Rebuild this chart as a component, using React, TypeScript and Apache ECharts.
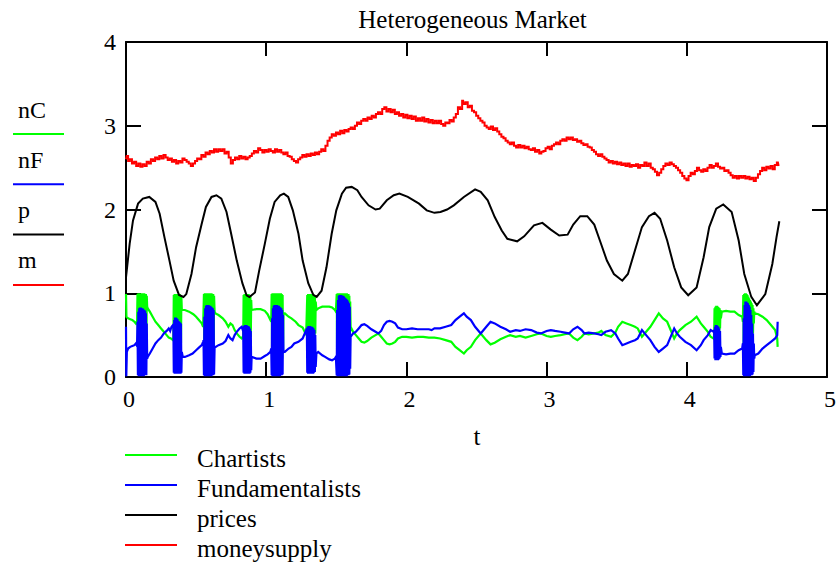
import React, { useEffect, useRef } from "react";
import * as echarts from "echarts";

// ---- data ----
const xTicks = [0, 1, 2, 3, 4, 5];
const yTicks = [0, 1, 2, 3, 4];

// nC (Chartists), [t, value]
const chartists: [number, number][] = [
  [0, 0.99], [0.003, 0.72], [0.015, 0.7], [0.03, 0.69], [0.045, 0.68], [0.06, 0.66], [0.07, 0.64], [0.076, 0.66],
  [0.079, 0.64], [0.082, 0.99], [0.085, 0.36], [0.088, 1.0], [0.091, 0.24], [0.094, 1.0], [0.097, 0.2], [0.1, 1.0], [0.103, 0.19], [0.106, 1.0], [0.109, 0.19], [0.112, 1.0], [0.115, 0.2], [0.118, 1.0], [0.121, 0.2], [0.124, 1.0], [0.127, 0.21], [0.13, 1.0], [0.133, 0.22], [0.136, 0.99], [0.139, 0.23], [0.142, 0.99], [0.145, 0.26], [0.148, 0.97], [0.151, 0.84],
  [0.155, 0.82], [0.17, 0.78], [0.19, 0.72], [0.21, 0.66], [0.23, 0.62], [0.25, 0.58], [0.27, 0.54], [0.29, 0.5], [0.305, 0.47], [0.32, 0.46], [0.335, 0.44],
  [0.338, 0.46], [0.341, 0.98], [0.344, 0.36], [0.347, 0.99], [0.35, 0.32], [0.353, 0.99], [0.356, 0.32], [0.359, 0.99], [0.362, 0.33], [0.365, 0.99], [0.368, 0.34], [0.371, 0.99], [0.374, 0.36], [0.377, 0.99], [0.38, 0.37], [0.383, 0.99], [0.386, 0.38], [0.389, 0.98], [0.392, 0.4], [0.395, 0.96], [0.398, 0.8],
  [0.405, 0.8], [0.42, 0.8], [0.45, 0.78], [0.48, 0.75], [0.5, 0.72], [0.52, 0.68], [0.54, 0.64], [0.55, 0.6],
  [0.553, 0.6], [0.556, 0.99], [0.559, 0.32], [0.562, 1.0], [0.565, 0.22], [0.568, 1.0], [0.571, 0.18], [0.574, 1.0], [0.577, 0.17], [0.58, 1.0], [0.583, 0.17], [0.586, 1.0], [0.589, 0.17], [0.592, 1.0], [0.595, 0.18], [0.598, 1.0], [0.601, 0.18], [0.604, 1.0], [0.607, 0.19], [0.61, 1.0], [0.613, 0.2], [0.616, 0.99], [0.619, 0.21], [0.622, 0.99], [0.625, 0.24], [0.628, 0.97], [0.632, 0.78],
  [0.638, 0.76], [0.66, 0.74], [0.69, 0.7], [0.71, 0.66], [0.73, 0.6], [0.745, 0.64], [0.76, 0.62], [0.775, 0.56], [0.79, 0.52], [0.81, 0.48], [0.825, 0.46], [0.833, 0.48],
  [0.836, 0.46], [0.839, 0.98], [0.842, 0.42], [0.845, 0.99], [0.848, 0.41], [0.851, 0.99], [0.854, 0.41], [0.857, 0.99], [0.86, 0.41], [0.863, 0.99], [0.866, 0.42], [0.869, 0.99], [0.872, 0.42], [0.875, 0.99], [0.878, 0.43], [0.881, 0.98], [0.884, 0.45], [0.887, 0.97], [0.89, 0.48], [0.893, 0.92], [0.896, 0.8],
  [0.9, 0.8], [0.93, 0.81], [0.96, 0.81], [0.99, 0.79], [1.01, 0.75], [1.03, 0.68],
  [1.036, 0.7], [1.039, 0.99], [1.042, 0.32], [1.045, 1.0], [1.048, 0.2], [1.051, 1.0], [1.054, 0.17], [1.057, 1.0], [1.06, 0.16], [1.063, 1.0], [1.066, 0.16], [1.069, 1.0], [1.072, 0.16], [1.075, 1.0], [1.078, 0.16], [1.081, 1.0], [1.084, 0.17], [1.087, 1.0], [1.09, 0.17], [1.093, 1.0], [1.096, 0.18], [1.099, 1.0], [1.102, 0.19], [1.105, 1.0], [1.108, 0.2], [1.111, 0.99], [1.114, 0.22], [1.117, 0.98], [1.12, 0.28], [1.123, 0.76],
  [1.133, 0.76], [1.16, 0.72], [1.18, 0.7], [1.21, 0.66], [1.23, 0.62], [1.26, 0.59], [1.285, 0.5],
  [1.29, 0.5], [1.293, 0.98], [1.296, 0.42], [1.299, 0.99], [1.302, 0.41], [1.305, 0.99], [1.308, 0.41], [1.311, 0.99], [1.314, 0.41], [1.317, 0.99], [1.32, 0.42], [1.323, 0.99], [1.326, 0.42], [1.329, 0.99], [1.332, 0.43], [1.335, 0.99], [1.338, 0.44], [1.341, 0.98], [1.344, 0.46], [1.347, 0.96], [1.35, 0.52], [1.353, 0.9], [1.358, 0.8],
  [1.371, 0.82], [1.4, 0.84], [1.42, 0.84], [1.45, 0.84], [1.47, 0.83], [1.49, 0.8], [1.497, 0.78],
  [1.5, 0.78], [1.503, 0.99], [1.506, 0.22], [1.509, 1.0], [1.512, 0.1], [1.515, 1.0], [1.518, 0.05], [1.521, 1.0], [1.524, 0.04], [1.527, 1.0], [1.53, 0.04], [1.533, 1.0], [1.536, 0.04], [1.539, 1.0], [1.542, 0.05], [1.545, 1.0], [1.548, 0.05], [1.551, 1.0], [1.554, 0.06], [1.557, 1.0], [1.56, 0.07], [1.563, 1.0], [1.566, 0.08], [1.569, 1.0], [1.572, 0.09], [1.575, 1.0], [1.578, 0.1], [1.581, 0.99], [1.584, 0.12], [1.587, 0.99], [1.59, 0.14], [1.593, 0.97], [1.596, 0.18], [1.599, 0.9], [1.602, 0.6],
  [1.62, 0.54], [1.64, 0.5], [1.66, 0.46], [1.68, 0.42], [1.7, 0.41], [1.72, 0.43], [1.75, 0.47], [1.78, 0.5], [1.8, 0.52], [1.82, 0.48], [1.84, 0.44], [1.86, 0.4], [1.88, 0.39], [1.9, 0.4], [1.92, 0.42], [1.94, 0.46], [1.97, 0.48], [2.0, 0.48], [2.04, 0.47], [2.08, 0.48], [2.12, 0.48], [2.16, 0.47], [2.2, 0.47], [2.24, 0.46], [2.28, 0.44], [2.32, 0.42], [2.35, 0.36], [2.38, 0.32], [2.41, 0.28], [2.43, 0.32], [2.46, 0.36], [2.49, 0.44], [2.53, 0.52], [2.57, 0.44], [2.6, 0.39], [2.63, 0.41], [2.67, 0.45], [2.71, 0.48], [2.74, 0.5], [2.78, 0.48], [2.81, 0.49], [2.85, 0.47], [2.89, 0.49], [2.93, 0.51], [2.96, 0.52], [3.0, 0.49], [3.03, 0.48], [3.06, 0.49], [3.1, 0.5], [3.13, 0.51], [3.16, 0.52], [3.19, 0.47], [3.22, 0.44], [3.25, 0.48], [3.27, 0.52], [3.3, 0.51], [3.34, 0.52], [3.37, 0.53], [3.39, 0.55], [3.42, 0.5], [3.46, 0.48], [3.49, 0.53], [3.51, 0.6], [3.54, 0.66], [3.57, 0.64], [3.6, 0.62], [3.63, 0.6], [3.65, 0.58], [3.68, 0.48], [3.71, 0.54], [3.74, 0.6], [3.77, 0.68], [3.8, 0.76], [3.83, 0.7], [3.86, 0.66], [3.89, 0.54], [3.91, 0.46], [3.93, 0.52], [3.95, 0.56], [3.99, 0.62], [4.03, 0.66], [4.07, 0.72], [4.1, 0.64], [4.12, 0.6], [4.15, 0.54], [4.17, 0.48], [4.19, 0.46],
  [4.195, 0.48], [4.198, 0.82], [4.201, 0.44], [4.204, 0.84], [4.207, 0.43], [4.21, 0.85], [4.213, 0.44], [4.216, 0.85], [4.219, 0.46], [4.222, 0.84], [4.225, 0.48], [4.228, 0.83], [4.231, 0.52], [4.234, 0.82], [4.237, 0.58], [4.24, 0.8], [4.243, 0.7],
  [4.25, 0.78], [4.28, 0.79], [4.31, 0.78], [4.34, 0.78], [4.37, 0.74], [4.395, 0.72],
  [4.4, 0.66], [4.403, 0.98], [4.406, 0.34], [4.409, 0.99], [4.412, 0.18], [4.415, 1.0], [4.418, 0.14], [4.421, 1.0], [4.424, 0.14], [4.427, 0.99], [4.43, 0.15], [4.433, 0.98], [4.436, 0.16], [4.439, 0.96], [4.442, 0.18], [4.445, 0.94], [4.448, 0.2], [4.451, 0.92], [4.454, 0.24], [4.457, 0.9], [4.46, 0.3], [4.463, 0.88], [4.466, 0.4], [4.469, 0.86], [4.472, 0.52], [4.475, 0.82], [4.478, 0.64], [4.481, 0.78],
  [4.485, 0.76], [4.51, 0.75], [4.54, 0.72], [4.57, 0.68], [4.6, 0.62], [4.63, 0.56], [4.645, 0.46], [4.648, 0.36],
];

// nF (Fundamentalists), [t, value]
const fundamentalists: [number, number][] = [
  [0, 0.6], [0.002, 0.01], [0.006, 0.3], [0.015, 0.34], [0.03, 0.36], [0.045, 0.37], [0.06, 0.38], [0.07, 0.4], [0.076, 0.38],
  [0.079, 0.4], [0.082, 0.66], [0.085, 0.02], [0.088, 0.78], [0.091, 0.01], [0.094, 0.82], [0.097, 0.01], [0.1, 0.83], [0.103, 0.01], [0.106, 0.83], [0.109, 0.01], [0.112, 0.82], [0.115, 0.01], [0.118, 0.82], [0.121, 0.01], [0.124, 0.81], [0.127, 0.01], [0.13, 0.8], [0.133, 0.02], [0.136, 0.79], [0.139, 0.02], [0.142, 0.76], [0.145, 0.02], [0.148, 0.64], [0.151, 0.22],
  [0.155, 0.24], [0.17, 0.28], [0.19, 0.34], [0.21, 0.4], [0.23, 0.44], [0.25, 0.47], [0.27, 0.52], [0.29, 0.55], [0.305, 0.58], [0.315, 0.55], [0.325, 0.6], [0.335, 0.62],
  [0.338, 0.6], [0.341, 0.05], [0.344, 0.68], [0.347, 0.04], [0.35, 0.71], [0.353, 0.04], [0.356, 0.71], [0.359, 0.04], [0.362, 0.7], [0.365, 0.04], [0.368, 0.69], [0.371, 0.04], [0.374, 0.67], [0.377, 0.04], [0.38, 0.66], [0.383, 0.04], [0.386, 0.65], [0.389, 0.04], [0.392, 0.64], [0.395, 0.05], [0.398, 0.3],
  [0.405, 0.24], [0.42, 0.24], [0.45, 0.26], [0.475, 0.28], [0.5, 0.32], [0.52, 0.35], [0.54, 0.38], [0.55, 0.42],
  [0.553, 0.44], [0.556, 0.02], [0.559, 0.72], [0.562, 0.01], [0.565, 0.82], [0.568, 0.01], [0.571, 0.85], [0.574, 0.01], [0.577, 0.86], [0.58, 0.01], [0.583, 0.86], [0.586, 0.01], [0.589, 0.86], [0.592, 0.01], [0.595, 0.85], [0.598, 0.01], [0.601, 0.85], [0.604, 0.01], [0.607, 0.84], [0.61, 0.01], [0.613, 0.83], [0.616, 0.02], [0.619, 0.82], [0.622, 0.02], [0.625, 0.8], [0.628, 0.03], [0.632, 0.36],
  [0.64, 0.36], [0.66, 0.38], [0.69, 0.4], [0.71, 0.43], [0.73, 0.5], [0.745, 0.46], [0.76, 0.44], [0.775, 0.5], [0.79, 0.54], [0.81, 0.58], [0.825, 0.6], [0.833, 0.56],
  [0.836, 0.58], [0.839, 0.05], [0.842, 0.61], [0.845, 0.04], [0.848, 0.62], [0.851, 0.04], [0.854, 0.62], [0.857, 0.04], [0.86, 0.62], [0.863, 0.04], [0.866, 0.61], [0.869, 0.04], [0.872, 0.61], [0.875, 0.04], [0.878, 0.6], [0.881, 0.04], [0.884, 0.58], [0.887, 0.05], [0.89, 0.55], [0.893, 0.08], [0.896, 0.24],
  [0.9, 0.24], [0.93, 0.22], [0.96, 0.22], [0.99, 0.25], [1.01, 0.27], [1.03, 0.3],
  [1.036, 0.34], [1.039, 0.02], [1.042, 0.7], [1.045, 0.01], [1.048, 0.82], [1.051, 0.01], [1.054, 0.85], [1.057, 0.01], [1.06, 0.86], [1.063, 0.01], [1.066, 0.86], [1.069, 0.01], [1.072, 0.86], [1.075, 0.01], [1.078, 0.86], [1.081, 0.01], [1.084, 0.85], [1.087, 0.01], [1.09, 0.85], [1.093, 0.01], [1.096, 0.84], [1.099, 0.01], [1.102, 0.83], [1.105, 0.02], [1.108, 0.82], [1.111, 0.02], [1.114, 0.8], [1.117, 0.03], [1.12, 0.74], [1.123, 0.3],
  [1.133, 0.3], [1.16, 0.34], [1.18, 0.36], [1.2, 0.4], [1.23, 0.42], [1.26, 0.46], [1.285, 0.56],
  [1.29, 0.58], [1.293, 0.05], [1.296, 0.6], [1.299, 0.04], [1.302, 0.61], [1.305, 0.04], [1.308, 0.61], [1.311, 0.04], [1.314, 0.61], [1.317, 0.04], [1.32, 0.6], [1.323, 0.04], [1.326, 0.6], [1.329, 0.04], [1.332, 0.59], [1.335, 0.04], [1.338, 0.58], [1.341, 0.05], [1.344, 0.56], [1.347, 0.06], [1.35, 0.5], [1.353, 0.12], [1.358, 0.28],
  [1.371, 0.3], [1.4, 0.26], [1.42, 0.24], [1.45, 0.21], [1.47, 0.2], [1.49, 0.22], [1.497, 0.24],
  [1.5, 0.24], [1.503, 0.02], [1.506, 0.8], [1.509, 0.01], [1.512, 0.92], [1.515, 0.01], [1.518, 0.97], [1.521, 0.01], [1.524, 0.98], [1.527, 0.01], [1.53, 0.98], [1.533, 0.01], [1.536, 0.98], [1.539, 0.01], [1.542, 0.97], [1.545, 0.01], [1.548, 0.97], [1.551, 0.01], [1.554, 0.96], [1.557, 0.01], [1.56, 0.95], [1.563, 0.01], [1.566, 0.94], [1.569, 0.01], [1.572, 0.93], [1.575, 0.01], [1.578, 0.92], [1.581, 0.02], [1.584, 0.9], [1.587, 0.02], [1.59, 0.88], [1.593, 0.03], [1.596, 0.84], [1.599, 0.1], [1.602, 0.48],
  [1.62, 0.52], [1.64, 0.54], [1.66, 0.58], [1.68, 0.62], [1.7, 0.63], [1.72, 0.61], [1.75, 0.57], [1.78, 0.54], [1.8, 0.52], [1.82, 0.55], [1.84, 0.62], [1.86, 0.66], [1.88, 0.67], [1.9, 0.66], [1.92, 0.64], [1.94, 0.59], [1.97, 0.57], [2.0, 0.57], [2.04, 0.58], [2.08, 0.57], [2.12, 0.57], [2.16, 0.57], [2.18, 0.56], [2.2, 0.58], [2.24, 0.58], [2.28, 0.6], [2.32, 0.62], [2.35, 0.68], [2.38, 0.72], [2.41, 0.76], [2.43, 0.72], [2.46, 0.68], [2.49, 0.6], [2.53, 0.52], [2.57, 0.6], [2.6, 0.66], [2.63, 0.64], [2.67, 0.6], [2.71, 0.57], [2.74, 0.54], [2.78, 0.56], [2.81, 0.55], [2.85, 0.57], [2.89, 0.56], [2.93, 0.53], [2.96, 0.52], [3.0, 0.55], [3.03, 0.56], [3.06, 0.55], [3.1, 0.54], [3.13, 0.53], [3.16, 0.52], [3.19, 0.57], [3.22, 0.6], [3.25, 0.56], [3.27, 0.52], [3.3, 0.53], [3.34, 0.52], [3.37, 0.51], [3.39, 0.5], [3.42, 0.54], [3.46, 0.56], [3.49, 0.52], [3.51, 0.46], [3.54, 0.38], [3.57, 0.4], [3.6, 0.42], [3.63, 0.44], [3.65, 0.46], [3.68, 0.56], [3.71, 0.5], [3.74, 0.44], [3.77, 0.36], [3.8, 0.3], [3.83, 0.34], [3.86, 0.38], [3.89, 0.5], [3.91, 0.58], [3.93, 0.52], [3.95, 0.48], [3.99, 0.42], [4.03, 0.38], [4.07, 0.32], [4.1, 0.38], [4.12, 0.44], [4.15, 0.5], [4.17, 0.56], [4.19, 0.54],
  [4.195, 0.56], [4.198, 0.22], [4.201, 0.6], [4.204, 0.2], [4.207, 0.62], [4.21, 0.2], [4.213, 0.62], [4.216, 0.2], [4.219, 0.61], [4.222, 0.2], [4.225, 0.6], [4.228, 0.21], [4.231, 0.58], [4.234, 0.22], [4.237, 0.55], [4.24, 0.24], [4.243, 0.36],
  [4.25, 0.28], [4.28, 0.27], [4.31, 0.28], [4.34, 0.28], [4.37, 0.32], [4.395, 0.34],
  [4.4, 0.4], [4.403, 0.02], [4.406, 0.7], [4.409, 0.01], [4.412, 0.86], [4.415, 0.01], [4.418, 0.9], [4.421, 0.01], [4.424, 0.9], [4.427, 0.01], [4.43, 0.89], [4.433, 0.01], [4.436, 0.88], [4.439, 0.01], [4.442, 0.86], [4.445, 0.01], [4.448, 0.84], [4.451, 0.01], [4.454, 0.8], [4.457, 0.02], [4.46, 0.74], [4.463, 0.02], [4.466, 0.64], [4.469, 0.03], [4.472, 0.52], [4.475, 0.06], [4.478, 0.4], [4.481, 0.22],
  [4.485, 0.26], [4.51, 0.28], [4.54, 0.34], [4.57, 0.38], [4.6, 0.42], [4.63, 0.46], [4.645, 0.5], [4.648, 0.66],
];

// p (prices), [t, value]
const prices: [number, number][] = [
  [0, 1.19], [0.026, 1.59], [0.05, 1.87], [0.086, 2.07], [0.12, 2.13], [0.166, 2.15], [0.21, 2.09], [0.24, 1.95], [0.274, 1.67], [0.31, 1.39], [0.34, 1.15], [0.378, 0.98], [0.41, 0.956], [0.43, 0.99], [0.467, 1.23], [0.5, 1.55], [0.54, 1.83], [0.57, 2.03], [0.61, 2.15], [0.645, 2.17], [0.68, 2.13], [0.717, 1.97], [0.75, 1.71], [0.79, 1.39], [0.83, 1.12], [0.86, 0.976], [0.88, 0.956], [0.92, 1.01], [0.95, 1.27], [0.99, 1.59], [1.026, 1.89], [1.06, 2.09], [1.1, 2.17], [1.126, 2.19], [1.157, 2.15], [1.19, 1.99], [1.23, 1.71], [1.26, 1.39], [1.3, 1.12], [1.336, 0.98], [1.36, 0.956], [1.395, 1.03], [1.43, 1.31], [1.467, 1.71], [1.5, 1.99], [1.54, 2.19], [1.57, 2.26], [1.61, 2.27], [1.65, 2.23], [1.68, 2.15], [1.73, 2.05], [1.78, 2.0], [1.81, 2.01], [1.86, 2.11], [1.91, 2.17], [1.95, 2.19], [2.01, 2.15], [2.09, 2.07], [2.145, 1.99], [2.2, 1.96], [2.243, 1.97], [2.29, 2.0], [2.338, 2.05], [2.41, 2.15], [2.49, 2.24], [2.53, 2.21], [2.58, 2.11], [2.63, 1.91], [2.68, 1.75], [2.72, 1.65], [2.79, 1.62], [2.84, 1.68], [2.91, 1.81], [2.97, 1.84], [3.03, 1.76], [3.09, 1.69], [3.15, 1.7], [3.19, 1.82], [3.24, 1.92], [3.29, 1.92], [3.34, 1.82], [3.38, 1.63], [3.43, 1.39], [3.48, 1.23], [3.54, 1.15], [3.58, 1.23], [3.63, 1.51], [3.68, 1.79], [3.73, 1.92], [3.77, 1.96], [3.81, 1.89], [3.86, 1.63], [3.91, 1.31], [3.96, 1.07], [4.01, 0.976], [4.07, 1.07], [4.12, 1.43], [4.16, 1.79], [4.21, 2.01], [4.26, 2.06], [4.32, 1.97], [4.37, 1.63], [4.41, 1.23], [4.46, 0.956], [4.5, 0.857], [4.56, 0.99], [4.61, 1.35], [4.64, 1.67], [4.66, 1.86],
];

// m (moneysupply), [t, value]
const moneysupply: [number, number][] = [
  [0, 2.6], [0.01, 2.64], [0.02, 2.58], [0.035, 2.6], [0.05, 2.55], [0.065, 2.57], [0.08, 2.52], [0.095, 2.55], [0.11, 2.51], [0.125, 2.54], [0.14, 2.52], [0.155, 2.57], [0.17, 2.55], [0.185, 2.6], [0.2, 2.58], [0.215, 2.62], [0.23, 2.6], [0.245, 2.64], [0.26, 2.61], [0.275, 2.65], [0.29, 2.62], [0.305, 2.59], [0.32, 2.61], [0.335, 2.57], [0.35, 2.59], [0.365, 2.55], [0.38, 2.58], [0.395, 2.56], [0.41, 2.61], [0.425, 2.59], [0.44, 2.57], [0.455, 2.55], [0.47, 2.52], [0.485, 2.55], [0.5, 2.58], [0.515, 2.61], [0.53, 2.6], [0.545, 2.65], [0.56, 2.63], [0.575, 2.68], [0.59, 2.66], [0.605, 2.7], [0.62, 2.68], [0.635, 2.72], [0.65, 2.69], [0.665, 2.72], [0.68, 2.7], [0.695, 2.72], [0.71, 2.67], [0.725, 2.69], [0.74, 2.62], [0.755, 2.55], [0.77, 2.59], [0.785, 2.62], [0.8, 2.6], [0.815, 2.64], [0.83, 2.61], [0.845, 2.63], [0.86, 2.6], [0.875, 2.62], [0.89, 2.64], [0.905, 2.67], [0.92, 2.7], [0.935, 2.68], [0.95, 2.73], [0.965, 2.71], [0.98, 2.68], [0.995, 2.71], [1.01, 2.69], [1.025, 2.72], [1.04, 2.7], [1.055, 2.68], [1.07, 2.72], [1.085, 2.69], [1.1, 2.71], [1.115, 2.68], [1.13, 2.66], [1.145, 2.68], [1.16, 2.64], [1.175, 2.63], [1.19, 2.6], [1.205, 2.58], [1.22, 2.56], [1.235, 2.6], [1.25, 2.62], [1.265, 2.65], [1.28, 2.63], [1.295, 2.66], [1.31, 2.64], [1.325, 2.67], [1.34, 2.65], [1.355, 2.68], [1.37, 2.66], [1.385, 2.69], [1.4, 2.72], [1.415, 2.7], [1.43, 2.76], [1.445, 2.82], [1.46, 2.86], [1.475, 2.9], [1.49, 2.88], [1.505, 2.92], [1.52, 2.9], [1.535, 2.94], [1.55, 2.91], [1.565, 2.95], [1.58, 2.93], [1.595, 2.96], [1.61, 2.98], [1.625, 2.96], [1.64, 3.0], [1.655, 3.04], [1.67, 3.02], [1.685, 3.06], [1.7, 3.08], [1.715, 3.06], [1.73, 3.1], [1.745, 3.08], [1.76, 3.12], [1.775, 3.1], [1.79, 3.14], [1.805, 3.16], [1.82, 3.14], [1.835, 3.2], [1.85, 3.22], [1.865, 3.17], [1.88, 3.2], [1.895, 3.16], [1.91, 3.19], [1.925, 3.14], [1.94, 3.16], [1.955, 3.12], [1.97, 3.14], [1.985, 3.1], [2.0, 3.13], [2.015, 3.09], [2.03, 3.12], [2.045, 3.08], [2.06, 3.11], [2.075, 3.06], [2.09, 3.09], [2.105, 3.06], [2.12, 3.1], [2.135, 3.05], [2.15, 3.08], [2.165, 3.04], [2.18, 3.07], [2.195, 3.03], [2.21, 3.06], [2.225, 3.03], [2.24, 3.06], [2.255, 3.02], [2.27, 3.0], [2.285, 3.04], [2.3, 3.03], [2.315, 3.07], [2.33, 3.05], [2.345, 3.1], [2.36, 3.14], [2.375, 3.22], [2.39, 3.2], [2.405, 3.3], [2.415, 3.26], [2.43, 3.28], [2.445, 3.22], [2.46, 3.24], [2.475, 3.18], [2.49, 3.16], [2.505, 3.12], [2.52, 3.09], [2.535, 3.06], [2.55, 3.04], [2.565, 3.0], [2.58, 2.98], [2.595, 2.96], [2.61, 2.99], [2.625, 2.95], [2.64, 2.97], [2.655, 2.93], [2.67, 2.9], [2.685, 2.87], [2.7, 2.85], [2.715, 2.82], [2.73, 2.8], [2.745, 2.78], [2.76, 2.8], [2.775, 2.76], [2.79, 2.74], [2.805, 2.77], [2.82, 2.74], [2.835, 2.76], [2.85, 2.73], [2.865, 2.75], [2.88, 2.72], [2.895, 2.71], [2.91, 2.73], [2.925, 2.69], [2.94, 2.71], [2.955, 2.67], [2.97, 2.69], [2.985, 2.7], [3.0, 2.73], [3.015, 2.75], [3.03, 2.72], [3.045, 2.76], [3.06, 2.78], [3.075, 2.8], [3.09, 2.78], [3.105, 2.82], [3.12, 2.84], [3.135, 2.82], [3.15, 2.86], [3.165, 2.84], [3.18, 2.86], [3.195, 2.83], [3.21, 2.84], [3.225, 2.81], [3.24, 2.82], [3.255, 2.79], [3.27, 2.77], [3.285, 2.78], [3.3, 2.75], [3.315, 2.74], [3.33, 2.71], [3.345, 2.69], [3.36, 2.66], [3.375, 2.64], [3.39, 2.66], [3.405, 2.63], [3.42, 2.61], [3.435, 2.59], [3.45, 2.56], [3.465, 2.58], [3.48, 2.55], [3.495, 2.57], [3.51, 2.54], [3.525, 2.56], [3.54, 2.53], [3.555, 2.55], [3.57, 2.52], [3.585, 2.55], [3.6, 2.51], [3.615, 2.53], [3.63, 2.52], [3.645, 2.54], [3.66, 2.5], [3.675, 2.53], [3.69, 2.52], [3.705, 2.56], [3.72, 2.52], [3.735, 2.55], [3.75, 2.5], [3.765, 2.48], [3.78, 2.45], [3.795, 2.41], [3.81, 2.44], [3.825, 2.48], [3.84, 2.52], [3.855, 2.55], [3.87, 2.53], [3.885, 2.56], [3.9, 2.54], [3.915, 2.52], [3.93, 2.5], [3.945, 2.47], [3.96, 2.44], [3.975, 2.4], [3.99, 2.37], [4.005, 2.35], [4.02, 2.4], [4.035, 2.44], [4.05, 2.42], [4.065, 2.46], [4.08, 2.5], [4.095, 2.47], [4.11, 2.45], [4.125, 2.48], [4.14, 2.46], [4.155, 2.5], [4.17, 2.53], [4.185, 2.5], [4.2, 2.52], [4.215, 2.55], [4.23, 2.51], [4.245, 2.49], [4.26, 2.5], [4.275, 2.46], [4.29, 2.47], [4.305, 2.44], [4.32, 2.41], [4.335, 2.38], [4.35, 2.4], [4.365, 2.37], [4.38, 2.4], [4.395, 2.38], [4.41, 2.4], [4.425, 2.37], [4.44, 2.39], [4.455, 2.36], [4.47, 2.38], [4.485, 2.34], [4.5, 2.38], [4.515, 2.42], [4.53, 2.46], [4.545, 2.5], [4.56, 2.47], [4.575, 2.51], [4.59, 2.49], [4.605, 2.52], [4.62, 2.48], [4.635, 2.53], [4.65, 2.56], [4.66, 2.52],
];

const sideLegendLabels = ["nC", "nF", "p", "m"];
const bottomLegendLabels = ["Chartists", "Fundamentalists", "prices", "moneysupply"];
const seriesColors = ["#00ff00", "#0000ff", "#000000", "#ff0000"];

const FONT = '"Liberation Serif", "Times New Roman", serif';

export default function App() {
  const ref = useRef<HTMLDivElement>(null);

  useEffect(() => {
    if (!ref.current) return;
    const chart = echarts.init(ref.current, undefined, { renderer: "svg" });

    const axisLabelStyle = { color: "#000", fontFamily: FONT, fontSize: 24 };
    const frameLine = { show: true, onZero: false, lineStyle: { color: "#000", width: 2 } };

    const graphics: any[] = [
      {
        type: "text", x: 472.5, y: 19,
        style: { text: "Heterogeneous Market", fontFamily: FONT, fontSize: 25, fill: "#000", align: "center", verticalAlign: "middle" },
      },
      {
        type: "text", x: 477, y: 436,
        style: { text: "t", fontFamily: FONT, fontSize: 25, fill: "#000", align: "center", verticalAlign: "middle" },
      },
    ];
    sideLegendLabels.forEach((lab, i) => {
      const ly = 134 + i * 50.3;
      graphics.push({
        type: "text", x: 18, y: ly - 24.5,
        style: { text: lab, fontFamily: FONT, fontSize: 24, fill: "#000", align: "left", verticalAlign: "middle" },
      });
      graphics.push({
        type: "line", shape: { x1: 13, y1: ly, x2: 64, y2: ly },
        style: { stroke: seriesColors[i], lineWidth: 2 },
      });
    });
    bottomLegendLabels.forEach((lab, i) => {
      const ly = 455 + i * 30;
      graphics.push({
        type: "line", shape: { x1: 125, y1: ly, x2: 177, y2: ly },
        style: { stroke: seriesColors[i], lineWidth: 2 },
      });
      graphics.push({
        type: "text", x: 197, y: ly + 3,
        style: { text: lab, fontFamily: FONT, fontSize: 25, fill: "#000", align: "left", verticalAlign: "middle" },
      });
    });

    const lineSeries = (name: string, data: [number, number][], color: string, width: number, step?: string) => ({
      name, type: "line", data, xAxisIndex: 0, yAxisIndex: 0,
      symbol: "none", showSymbol: false, smooth: false, step: step || false,
      lineStyle: { color, width, join: "miter" }, itemStyle: { color },
      emphasis: { disabled: true }, silent: true, z: 2,
    });

    chart.setOption({
      animation: false,
      backgroundColor: "#ffffff",
      grid: { left: 126, top: 42, right: 9, bottom: 186, containLabel: false, outerBoundsMode: "none" },
      xAxis: [
        {
          type: "value", position: "bottom", min: xTicks[0], max: xTicks[xTicks.length - 1], interval: 1,
          axisLine: frameLine,
          axisTick: { show: true, inside: true, length: 15, lineStyle: { color: "#000", width: 2 } },
          axisLabel: { ...axisLabelStyle, margin: 10, padding: [0, 0, 0, 6], showMinLabel: true, showMaxLabel: true },
          splitLine: { show: false },
        },
        {
          type: "value", position: "top", min: xTicks[0], max: xTicks[xTicks.length - 1], interval: 1,
          axisLine: frameLine,
          axisTick: { show: true, inside: true, length: 14, lineStyle: { color: "#000", width: 2 } },
          axisLabel: { show: false },
          splitLine: { show: false },
        },
      ],
      yAxis: [
        {
          type: "value", position: "left", min: yTicks[0], max: yTicks[yTicks.length - 1], interval: 1,
          axisLine: frameLine,
          axisTick: { show: true, inside: true, length: 15, lineStyle: { color: "#000", width: 2 } },
          axisLabel: { ...axisLabelStyle, margin: 10, padding: [9, 0, 0, 0], showMinLabel: true, showMaxLabel: true },
          splitLine: { show: false },
        },
        {
          type: "value", position: "right", min: yTicks[0], max: yTicks[yTicks.length - 1], interval: 1,
          axisLine: frameLine,
          axisTick: { show: true, inside: true, length: 15, lineStyle: { color: "#000", width: 2 } },
          axisLabel: { show: false },
          splitLine: { show: false },
        },
      ],
      series: [
        lineSeries("nC", chartists, seriesColors[0], 2.2),
        lineSeries("nF", fundamentalists, seriesColors[1], 2.2),
        lineSeries("p", prices, seriesColors[2], 2),
        lineSeries("m", moneysupply, seriesColors[3], 2, "middle"),
      ],
      graphic: graphics,
    });

    return () => chart.dispose();
  }, []);

  return (
    <div
      ref={ref}
      style={{ position: "fixed", left: 0, top: 0, width: 836, height: 563, background: "#fff" }}
    />
  );
}
